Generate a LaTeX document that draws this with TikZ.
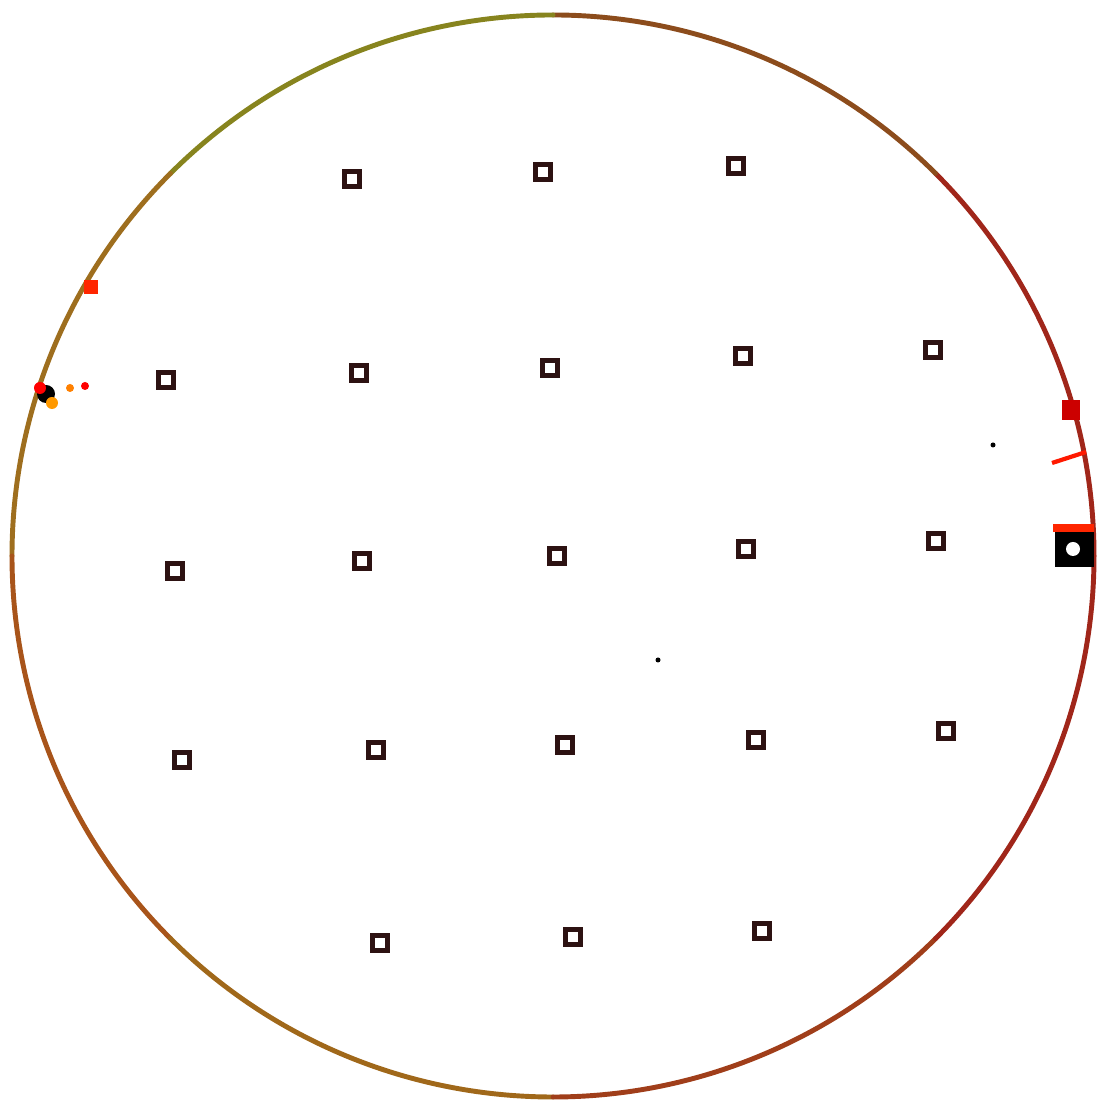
\documentclass[tikz,border=0pt]{standalone}
\usepackage{tikz}
\usetikzlibrary{calc}

\definecolor{rimolive}{RGB}{135,132,30}
\definecolor{rimtop}{RGB}{140,110,30}
\definecolor{rimbrown}{RGB}{140,76,28}
\definecolor{rimamber}{RGB}{158,110,30}
\definecolor{rimorange}{RGB}{168,84,26}
\definecolor{rimyellow}{RGB}{160,104,26}
\definecolor{rimrust}{RGB}{160,62,26}
\definecolor{rimred}{RGB}{160,38,26}
\definecolor{padink}{RGB}{45,18,18}

\tikzset{
  pad/.style={draw=padink,line width=1.3pt,minimum size=1.5mm,inner sep=0pt,fill=white},
  rim/.style={line width=1.4pt,line cap=round}
}

\begin{document}
\begin{tikzpicture}[x=0.1mm,y=0.1mm]
				\useasboundingbox (0,0) rectangle (1098,1100); % window of the wafer view
				% the wafer rim, coloured in eight arcs
				\coordinate (c) at (553,544);
				\draw[rim,rimred]      ($(c)+(0:541)$)   arc (0:45:541);
				\draw[rim,rimbrown]    ($(c)+(45:541)$)  arc (45:90:541);
				\draw[rim,rimolive]    ($(c)+(90:541)$)  arc (90:135:541);
				\draw[rim,rimamber]    ($(c)+(135:541)$) arc (135:180:541);
				\draw[rim,rimorange]   ($(c)+(180:541)$) arc (180:225:541);
				\draw[rim,rimyellow]   ($(c)+(225:541)$) arc (225:270:541);
				\draw[rim,rimrust]     ($(c)+(270:541)$) arc (270:315:541);
				\draw[rim,rimred]      ($(c)+(315:541)$) arc (315:360:541);
				% row 1
				\node[pad] (p11) at (352,921) {};
				\node[pad] (p12) at (543,928) {};
				\node[pad] (p13) at (736,934) {};
				% row 2
				\node[pad] (p21) at (166,720) {};
				\node[pad] (p22) at (359,727) {};
				\node[pad] (p23) at (550,732) {};
				\node[pad] (p24) at (743,744) {};
				\node[pad] (p25) at (933,750) {};
				% row 3
				\node[pad] (p31) at (175,529) {};
				\node[pad] (p32) at (362,539) {};
				\node[pad] (p33) at (557,544) {};
				\node[pad] (p34) at (746,551) {};
				\node[pad] (p35) at (936,559) {};
				% row 4
				\node[pad] (p41) at (182,340) {};
				\node[pad] (p42) at (376,350) {};
				\node[pad] (p43) at (565,355) {};
				\node[pad] (p44) at (756,360) {};
				\node[pad] (p45) at (946,369) {};
				% row 5
				\node[pad] (p51) at (380,157) {};
				\node[pad] (p52) at (573,163) {};
				\node[pad] (p53) at (762,169) {};
				% notch marker on the right edge
				\fill[red!70!orange] (1053,568) rectangle (1094,576);
				\fill[black] (1055,533) rectangle (1094,568);
				\fill[white] (1073,551) circle (7);
				\fill[red!80!black] (1062,680) rectangle (1080,700);
				\draw[red!80!orange,line width=1.2pt] (1052,637) -- (1086,648);
				% specks near the left edge
				\fill[red!70!orange] (84,806) rectangle (98,820);
				\fill[black] (46,706) circle (9);
				\fill[orange!80!yellow] (52,697) circle (6);
				\fill[red] (40,712) circle (6);
				\fill[orange] (70,712) circle (4);
				\fill[red] (85,714) circle (4);
				% loose particles
				\fill[black] (993,655) circle (2.5);
				\fill[black] (658,440) circle (2.5);
\end{tikzpicture}
\end{document}
